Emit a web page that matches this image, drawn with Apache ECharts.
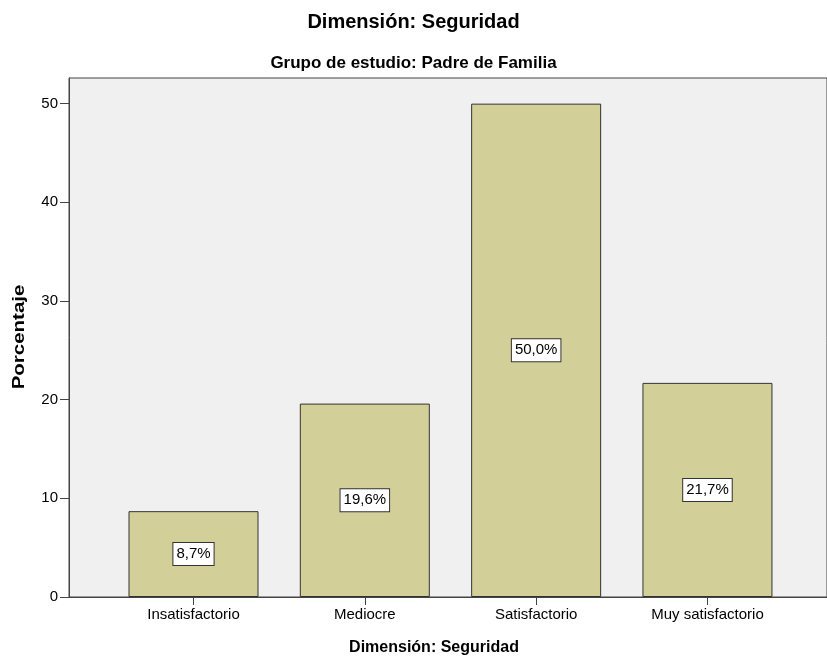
<!DOCTYPE html>
<html>
<head>
<meta charset="utf-8">
<script src="https://cdn.jsdelivr.net/npm/echarts@6/dist/echarts.min.js"></script>
<style>
  html, body { margin: 0; padding: 0; background: #ffffff; }
  #chart { width: 827px; height: 658px; }
</style>
</head>
<body>
<div id="chart"></div>
<script>
// Niveles de la dimensión y porcentaje de respuestas
const categories = ['Insatisfactorio', 'Mediocre', 'Satisfactorio', 'Muy satisfactorio'];
const percentages = [8.7, 19.6, 50.0, 21.7];
const yTicks = [0, 10, 20, 30, 40, 50];

const chart = echarts.init(document.getElementById('chart'));
const positions = categories.map((_, i) => i);
const fontFam = 'Arial, "Liberation Sans", sans-serif';

chart.setOption({
  animation: false,
  backgroundColor: '#ffffff',
  title: [
    {
      text: 'Dimensión: Seguridad',
      left: 'center',
      top: 7,
      textStyle: { fontFamily: fontFam, fontSize: 20, fontWeight: 'bold', color: '#000' }
    },
    {
      text: 'Grupo de estudio: Padre de Familia',
      left: 'center',
      top: 50,
      textStyle: { fontFamily: fontFam, fontSize: 17, fontWeight: 'bold', color: '#000' }
    }
  ],
  graphic: [
    {
      // título del eje X
      type: 'text',
      x: 434,
      y: 648,
      style: {
        text: 'Dimensión: Seguridad',
        font: 'bold 16px ' + fontFam,
        fill: '#000',
        align: 'center',
        verticalAlign: 'middle'
      }
    },
    {
      // título del eje Y, girado
      type: 'text',
      x: 20,
      y: 337,
      rotation: Math.PI / 2,
      scaleX: 1.28,
      style: {
        text: 'Porcentaje',
        font: 'bold 16px ' + fontFam,
        fill: '#000',
        align: 'center',
        verticalAlign: 'middle'
      }
    }
  ],
  grid: {
    left: 69,
    right: -3,
    top: 78,
    bottom: 61,
    show: true,
    backgroundColor: '#f0f0f0',
    borderColor: '#444',
    borderWidth: 1
  },
  xAxis: {
    type: 'value',
    min: -0.7267,
    max: 3.6977,
    axisLine: { show: true, lineStyle: { color: '#444', width: 1 } },
    axisTick: { show: true, customValues: positions, length: 8, lineStyle: { color: '#444' } },
    axisLabel: {
      customValues: positions,
      formatter: v => categories[Math.round(v)],
      fontFamily: fontFam,
      fontSize: 15,
      color: '#000',
      margin: 10
    },
    splitLine: { show: false }
  },
  yAxis: {
    type: 'value',
    min: 0,
    max: 52.6,
    interval: 10,
    axisLine: { show: true, onZero: false, lineStyle: { color: '#444', width: 1 } },
    axisTick: { show: true, length: 9, lineStyle: { color: '#444' } },
    axisLabel: {
      fontFamily: fontFam,
      fontSize: 15,
      color: '#000',
      margin: 11,
      showMaxLabel: false,
      formatter: v => (yTicks.indexOf(v) >= 0 ? String(v) : '')
    },
    splitLine: { show: false }
  },
  series: [
    {
      type: 'bar',
      barWidth: 130,
      data: percentages.map((v, i) => [positions[i], v]),
      itemStyle: { color: '#d3cf98', borderColor: '#333', borderWidth: 1 },
      label: {
        show: true,
        position: 'inside',
        formatter: p => p.value[1].toFixed(1).replace('.', ',') + '%',
        fontFamily: fontFam,
        fontSize: 15,
        color: '#000',
        backgroundColor: '#ffffff',
        borderColor: '#333',
        borderWidth: 1,
        padding: [4, 3, 3, 3]
      }
    }
  ]
});
</script>
</body>
</html>
